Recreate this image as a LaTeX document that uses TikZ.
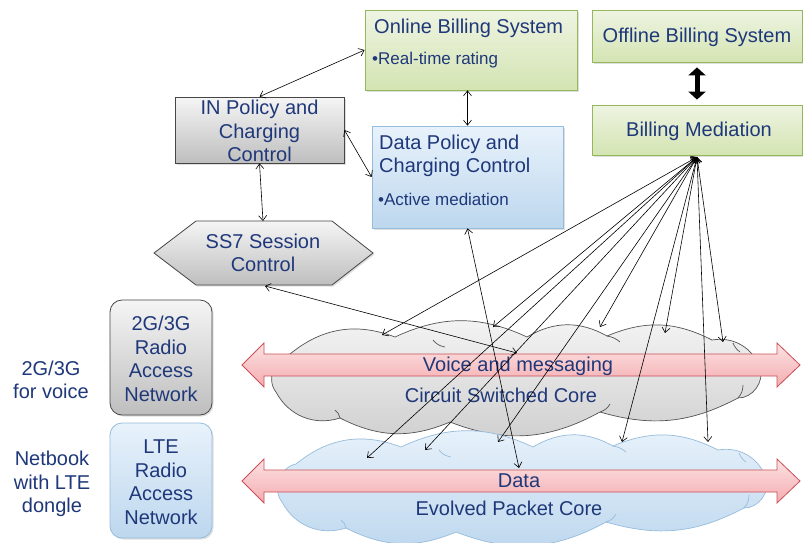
\documentclass[tikz,border=0pt]{standalone}
\usepackage{fontspec}
\setmainfont{Liberation Sans}
\usetikzlibrary{arrows.meta,shadows}
\definecolor{txt}{RGB}{31,56,122}
\definecolor{grnT}{RGB}{238,244,226}
\definecolor{grnB}{RGB}{212,228,178}
\definecolor{grnD}{RGB}{150,182,90}
\definecolor{bluT}{RGB}{232,242,251}
\definecolor{bluB}{RGB}{189,215,238}
\definecolor{bluD}{RGB}{150,188,220}
\definecolor{gryT}{RGB}{245,245,245}
\definecolor{gryB}{RGB}{190,190,190}
\definecolor{gryD}{RGB}{70,70,70}
\definecolor{pnkT}{RGB}{252,226,227}
\definecolor{pnkB}{RGB}{244,172,176}
\definecolor{pnkD}{RGB}{200,80,86}
\newcommand\myCloudOutline{(276,392) to[bend left=60] (290,354) to[bend left=30] (395,337)
      to[bend left=25] (527,337) to[bend left=30] (607,336) to[bend left=25] (712,340)
      to[bend left=40] (760,368) to[bend left=55] (738,398) to[bend left=22] (600,412)
      to[bend left=25] (450,422) to[bend left=25] (340,418) to[bend left=40] cycle}
\newcommand\myCloudInner{(433,340) to[bend right=20] (445,347)
      (607,336) to[bend left=15] (620,342) (733,343) to[bend right=15] (740,352)
      (738,398) to[bend right=20] (743,385) (600,412) to[bend right=20] (610,404)
      (340,418) to[bend right=20] (335,410)}
\tikzset{
  lbl/.style={text=txt, font=\fontsize{20}{23.5}\selectfont, align=center, inner sep=0pt},
  sub/.style={text=txt, font=\fontsize{17}{20}\selectfont, inner sep=0pt, anchor=west},
  shad/.style={drop shadow={opacity=0.25, shadow xshift=1.5pt, shadow yshift=-1.5pt}},
  grnbox/.style={draw=grnD, top color=grnT, bottom color=grnB, line width=0.8pt, shad},
  blubox/.style={draw=bluD, top color=bluT, bottom color=bluB, line width=0.8pt, shad},
  grybox/.style={draw=gryD, top color=gryT, bottom color=gryB, line width=0.8pt, shad},
  link/.style={{Straight Barb[length=5pt,width=8pt]}-{Straight Barb[length=5pt,width=8pt]}, line width=0.6pt, black},
  flow/.style={draw=pnkD, top color=pnkT, bottom color=pnkB, line width=0.8pt},
}
\begin{document}
\begin{tikzpicture}[x=1pt,y=-1pt]
\useasboundingbox[fill=white] (0,0) rectangle (803,542);

% clouds
\path[draw=gray!65!black, top color=gray!8, bottom color=gray!38, line width=0.7pt] \myCloudOutline;
\draw[gray!65!black, line width=0.7pt] \myCloudInner;
\begin{scope}[shift={(6,110)}]
\path[draw=bluD, top color=bluT, bottom color=bluB, line width=0.7pt] \myCloudOutline;
\draw[bluD, line width=0.7pt] \myCloudInner;
\end{scope}

% flow arrows
\path[flow] (242,365) -- (264,343) -- (264,354) -- (777,354) -- (777,343) -- (800,365)
  -- (777,387) -- (777,376) -- (264,376) -- (264,387) -- cycle;
\path[flow] (242,481) -- (264,459) -- (264,470) -- (777,470) -- (777,459) -- (800,481)
  -- (777,503) -- (777,492) -- (264,492) -- (264,503) -- cycle;
\node[lbl] (voice) at (518,366) {Voice and messaging};
\node[lbl] (data) at (519,481) {Data};
\node[lbl] (cstext) at (501,395) {Circuit Switched Core};
\node[lbl] (epctext) at (509,508) {Evolved Packet Core};

% boxes
\node[grnbox, minimum width=212pt, minimum height=80pt] (obs) at (471,50) {};
\node[sub, font=\fontsize{20}{23.5}\selectfont] (obst) at (374,28) {Online Billing System};
\node[sub] (obsb) at (372,60) {•Real-time rating};

\node[grnbox, minimum width=210pt, minimum height=52pt] (off) at (697,36) {};
\node[lbl] (offt) at (697,37) {Offline Billing System};

\node[grnbox, minimum width=210pt, minimum height=50pt] (bm) at (697,130) {};
\node[lbl] (bmt) at (699,131) {Billing Mediation};

\node[grybox, minimum width=169pt, minimum height=66pt] (in) at (259.5,130) {};
\node[lbl] (int) at (259.5,131) {IN Policy and\\Charging\\Control};

\node[blubox, minimum width=191pt, minimum height=102pt] (dpcc) at (467.5,177) {};
\node[lbl, align=left, anchor=west] (dpcct) at (379,156) {Data Policy and\\Charging Control};
\node[sub] (dpccb) at (378,199) {•Active mediation};

% SS7 hexagon
\path[grybox] (154,253) -- (196,221) -- (332,221) -- (373,253) -- (332,285) -- (196,285) -- cycle;
\node[lbl] (ss7) at (263,253) {SS7 Session\\Control};
\coordinate (ss7top) at (263,221);
\coordinate (ss7bot) at (265,286);

% RANs
\node[grybox, rounded corners=12pt, minimum width=102pt, minimum height=115pt] (ran2) at (161,357.5) {};
\node[lbl] (ran2t) at (161,359) {2G/3G\\Radio\\Access\\Network};
\node[blubox, rounded corners=12pt, minimum width=102pt, minimum height=115pt] (lte) at (161,480.5) {};
\node[lbl] (ltet) at (161,482) {LTE\\Radio\\Access\\Network};

\node[lbl] (l1) at (51,380) {2G/3G\\for voice};
\node[lbl] (l2) at (52,484) {Netbook\\with LTE\\dongle};

% endpoints
\coordinate (bmo) at (697,157);
\coordinate (c1) at (382,335);
\coordinate (c2) at (493,327);
\coordinate (c3) at (600,327);
\coordinate (c4) at (665,333);
\coordinate (c5) at (723,342);
\coordinate (e1) at (367,458);
\coordinate (e2) at (425,450);
\coordinate (e3) at (498,442);
\coordinate (e4) at (622,442);
\coordinate (e5) at (708,442);
\coordinate (sscs) at (517,353);
\coordinate (dpe) at (519,468);

% connectors
\draw[link] (in.north) -- (obs.west);
\draw[link] (in.east) -- (dpcc.west);
\draw[link] (obs.south -| dpcc.north) -- (dpcc.north);
\draw[link] (in.south) -- (ss7top);
\draw[link] (ss7bot) -- (sscs);
\draw[link] (dpcc.south) -- (dpe);
\foreach \p in {c1,c2,c3,c4,c5,e1,e2,e3,e4,e5}
  \draw[link] (bmo) -- (\p);
\draw[{Triangle[length=8pt,width=17pt]}-{Triangle[length=8pt,width=17pt]}, line width=5pt, shorten <=5pt, shorten >=5pt] (off.south) -- (bm.north);
\end{tikzpicture}
\end{document}
